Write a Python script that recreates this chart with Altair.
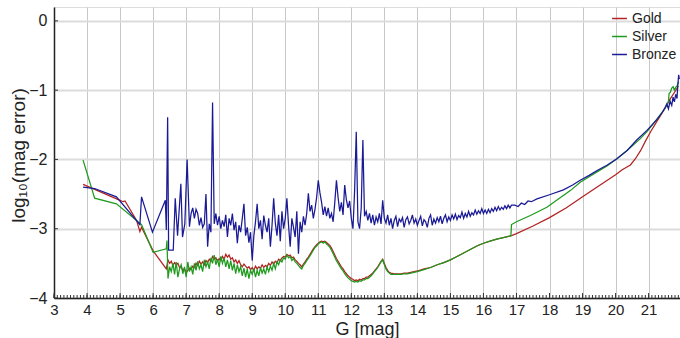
import altair as alt
import pandas as pd

def grid(start, n, step=0.05):
    return [round(start + i * step, 2) for i in range(n)]

# ---------------- Gold ----------------
gold_head_x = [3.88, 5.00, 5.09, 5.15, 5.50, 5.60, 5.65, 6.00]
gold_head_y = [-2.36, -2.59, -2.61, -2.60, -2.88, -3.04, -2.98, -3.32]
gold_noisy_y = [
    -3.58, -3.45, -3.50, -3.47, -3.53, -3.49, -3.52, -3.50, -3.56, -3.55,
    -3.60, -3.58, -3.64, -3.60, -3.57, -3.59, -3.54, -3.56, -3.50, -3.53,
    -3.47, -3.51, -3.48, -3.52, -3.46, -3.49, -3.44, -3.47, -3.40, -3.44,
    -3.42, -3.47, -3.43, -3.46, -3.40, -3.44, -3.37, -3.41, -3.38, -3.44,
    -3.42, -3.48, -3.45, -3.50, -3.46, -3.52, -3.55, -3.51, -3.54, -3.57,
    -3.55, -3.59, -3.56, -3.60, -3.54, -3.58, -3.55, -3.57, -3.52, -3.56,
    -3.53, -3.55, -3.50, -3.53, -3.48, -3.51, -3.47, -3.49, -3.44, -3.46,
    -3.42, -3.40, -3.41, -3.37, -3.39, -3.38, -3.42, -3.41, -3.45, -3.47,
    -3.50, -3.52, -3.55, -3.51, -3.48, -3.44, -3.41, -3.37, -3.33,
]  # 6.40 .. 10.80 step 0.05
gold_bump_y = [
    -3.29, -3.26, -3.23, -3.21, -3.19, -3.18, -3.19, -3.18, -3.20, -3.22,
    -3.24, -3.28, -3.33, -3.38, -3.43, -3.47, -3.51, -3.55, -3.58, -3.62,
    -3.65, -3.68, -3.70, -3.72, -3.73, -3.75, -3.74, -3.75, -3.73, -3.74,
    -3.72, -3.72, -3.70, -3.70, -3.68, -3.66, -3.64, -3.61, -3.58, -3.55,
    -3.51, -3.47, -3.44, -3.50, -3.56, -3.60, -3.63, -3.64,
]  # 10.85 .. 13.20 step 0.05
gold_tail_x = [13.3, 13.4, 13.5, 13.6, 13.7, 13.8, 13.9, 14.0, 14.2, 14.4, 14.6, 14.8,
               15.0, 15.2, 15.4, 15.6, 15.8, 16.0, 16.2, 16.4, 16.6, 16.85, 17.0, 17.5,
               18.0, 18.5, 19.0, 19.5, 20.0, 20.2, 20.45, 20.6, 20.76, 20.9, 21.06,
               21.25, 21.46, 21.65, 21.8, 21.9]
gold_tail_y = [-3.65, -3.65, -3.65, -3.64, -3.64, -3.63, -3.62, -3.61, -3.58, -3.56, -3.52, -3.49,
               -3.45, -3.40, -3.35, -3.30, -3.25, -3.21, -3.18, -3.15, -3.13, -3.10, -3.07, -2.96,
               -2.84, -2.70, -2.54, -2.38, -2.22, -2.15, -2.08, -1.99, -1.87, -1.74, -1.60,
               -1.45, -1.29, -1.13, -1.02, -0.94]

# ---------------- Silver ----------------
silver_head_x = [3.88, 4.23, 4.89, 5.65, 6.00, 6.40, 6.42]
silver_head_y = [-2.01, -2.56, -2.64, -2.94, -3.34, -3.29, -3.17]
silver_noisy_y = [
    -3.72, -3.55, -3.62, -3.50, -3.66, -3.48, -3.70, -3.58, -3.52, -3.65,
    -3.55, -3.70, -3.48, -3.62, -3.55, -3.66, -3.50, -3.60, -3.47, -3.58,
    -3.52, -3.62, -3.45, -3.55, -3.48, -3.58, -3.42, -3.50, -3.38, -3.52,
    -3.44, -3.55, -3.40, -3.50, -3.42, -3.55, -3.45, -3.58, -3.46, -3.60,
    -3.50, -3.65, -3.52, -3.62, -3.55, -3.68, -3.57, -3.70, -3.58, -3.72,
    -3.60, -3.66, -3.58, -3.70, -3.60, -3.68, -3.56, -3.64, -3.58, -3.66,
    -3.55, -3.62, -3.54, -3.60, -3.50, -3.58, -3.48, -3.52, -3.45, -3.48,
    -3.42, -3.44, -3.38, -3.42, -3.40, -3.46, -3.43, -3.48, -3.50, -3.53,
    -3.56, -3.58, -3.53, -3.50, -3.46, -3.43, -3.39, -3.35,
]  # 6.45 .. 10.80 step 0.05
silver_bump_y = [
    -3.31, -3.27, -3.25, -3.22, -3.20, -3.19, -3.21, -3.19, -3.22, -3.24,
    -3.27, -3.31, -3.36, -3.41, -3.46, -3.50, -3.54, -3.58, -3.61, -3.65,
    -3.68, -3.71, -3.73, -3.75, -3.76, -3.77, -3.76, -3.77, -3.75, -3.76,
    -3.74, -3.74, -3.72, -3.72, -3.70, -3.68, -3.65, -3.62, -3.59, -3.56,
    -3.52, -3.48, -3.45, -3.52, -3.58, -3.62, -3.64, -3.66,
]  # 10.85 .. 13.20 step 0.05
silver_tail_x = [13.3, 13.4, 13.5, 13.6, 13.7, 13.8, 13.9, 14.0, 14.2, 14.4, 14.6, 14.8,
                 15.0, 15.2, 15.4, 15.6, 15.8, 16.0, 16.2, 16.4, 16.6, 16.83, 16.85, 17.0,
                 17.42, 17.92, 18.3, 18.63, 18.93, 19.2, 19.44, 19.75, 20.04, 20.45, 20.75,
                 20.95, 21.2, 21.46, 21.55, 21.60, 21.62, 21.66, 21.70, 21.74, 21.78, 21.82,
                 21.86, 21.91]
silver_tail_y = [-3.66, -3.66, -3.66, -3.65, -3.65, -3.64, -3.63, -3.62, -3.59, -3.56, -3.52, -3.49,
                 -3.45, -3.40, -3.35, -3.30, -3.25, -3.21, -3.18, -3.15, -3.13, -3.10, -2.94, -2.90,
                 -2.81, -2.69, -2.56, -2.45, -2.33, -2.25, -2.18, -2.09, -1.99, -1.83, -1.70,
                 -1.60, -1.45, -1.29, -1.22, -1.16, -1.05, -1.03, -0.97, -0.95, -1.00, -0.96,
                 -0.94, -0.88]

# ---------------- Bronze ----------------
bronze_head_x = [3.88, 4.23, 4.89, 5.60, 5.65, 5.98, 6.37, 6.40, 6.44, 6.47, 6.61, 6.67,
                 6.74, 6.84, 6.89, 6.96, 7.03]
bronze_head_y = [-2.40, -2.42, -2.54, -2.94, -2.54, -3.05, -2.59, -3.02, -1.39, -3.31, -3.31, -2.56,
                 -3.10, -2.35, -3.12, -2.93, -2.00]
bronze_noisy_y = [
    -2.97, -2.78, -2.70, -2.85, -2.72, -2.78, -2.95, -2.84, -2.98, -2.93,
    -2.50, -3.26, -2.93, -3.05, -1.18, -2.93, -2.78, -2.95, -2.82, -3.00,
    -2.88, -2.97, -2.80, -3.12, -2.85, -2.95, -2.78, -3.02, -2.90, -3.21,
    -2.95, -3.05, -2.85, -2.64, -3.10, -2.98, -3.20, -3.05, -3.46, -3.10,
    -2.90, -2.64, -3.00, -2.88, -3.15, -2.81, -2.95, -3.05, -2.85, -3.26,
    -2.95, -2.56, -2.92, -3.10, -2.80, -3.18, -2.75, -3.00, -2.85, -2.56,
    -2.95, -3.26, -2.85, -2.98, -3.12, -2.75, -3.36, -2.90, -3.05, -2.82,
    -2.95, -2.78, -2.49, -2.75, -2.66, -2.85, -2.72, -2.55, -2.30, -2.48,
    -2.62, -2.80, -2.68, -2.82, -2.70, -2.85, -2.78, -2.90, -2.62, -2.30,
    -2.55, -2.75, -2.62, -2.80, -2.37, -2.58, -2.70, -2.60, -2.85, -3.00,
    -2.45, -1.60, -2.90, -3.00, -2.70, -1.72, -2.82, -2.75, -2.88, -2.78,
    -2.92, -2.80, -2.95, -2.83, -2.90, -2.78, -2.93, -2.59, -2.85,
]  # 7.10 .. 13.00 step 0.05
bronze_flat_y = [
    -2.92, -2.80, -2.95, -2.85, -3.00, -2.88, -2.82, -2.97, -2.86, -2.90,
    -2.84, -2.98, -2.87, -2.83, -2.93, -2.88, -2.80, -2.92, -2.86, -2.95,
    -2.88, -2.82, -2.96, -2.87, -2.90, -2.98, -2.85, -2.80, -2.95, -2.86,
    -2.92, -2.84, -2.90, -2.82, -2.93, -2.85, -2.80, -2.90, -2.83, -2.88,
    -2.80, -2.86, -2.79, -2.87, -2.81, -2.84, -2.76, -2.85, -2.78, -2.83,
    -2.75, -2.82, -2.77, -2.80, -2.73, -2.79, -2.74, -2.78, -2.71, -2.78,
    -2.73, -2.78, -2.72, -2.77, -2.71, -2.75, -2.69, -2.74, -2.68, -2.73,
    -2.69, -2.72, -2.67, -2.71, -2.66, -2.70, -2.66,
]  # 13.05 .. 16.85 step 0.05
bronze_tail_x = [16.95, 17.05, 17.15, 17.25, 17.35, 17.45, 17.62, 18.0, 18.42, 18.7, 18.93,
                 19.2, 19.44, 19.75, 20.04, 20.35, 20.64, 20.95, 21.24, 21.40, 21.50, 21.55,
                 21.60, 21.65, 21.70, 21.74, 21.78, 21.82, 21.86, 21.88, 21.91, 21.93]
bronze_tail_y = [-2.66, -2.68, -2.63, -2.65, -2.60, -2.61, -2.57, -2.51, -2.44, -2.37, -2.30,
                 -2.23, -2.16, -2.08, -1.99, -1.87, -1.72, -1.58, -1.43, -1.33, -1.25, -1.20,
                 -1.27, -1.16, -1.22, -1.10, -1.17, -1.06, -1.12, -0.95, -0.78, -0.84]

series_names = ["Gold", "Silver", "Bronze"]
series_colors = ["#b22222", "#1e9a1e", "#1a1a96"]

gold_x = gold_head_x + grid(6.40, len(gold_noisy_y)) + grid(10.85, len(gold_bump_y)) + gold_tail_x
gold_y = gold_head_y + gold_noisy_y + gold_bump_y + gold_tail_y
silver_x = silver_head_x + grid(6.45, len(silver_noisy_y)) + grid(10.85, len(silver_bump_y)) + silver_tail_x
silver_y = silver_head_y + silver_noisy_y + silver_bump_y + silver_tail_y
bronze_x = bronze_head_x + grid(7.10, len(bronze_noisy_y)) + grid(13.05, len(bronze_flat_y)) + bronze_tail_x
bronze_y = bronze_head_y + bronze_noisy_y + bronze_flat_y + bronze_tail_y

rows = []
for name, xs, ys in [("Gold", gold_x, gold_y), ("Silver", silver_x, silver_y), ("Bronze", bronze_x, bronze_y)]:
    for i, (a, b) in enumerate(zip(xs, ys)):
        rows.append({"G": a, "err": b, "series": name, "i": i})
df = pd.DataFrame(rows)

x_major = list(range(3, 22))
y_major = [-4, -3, -2, -1, 0]
x_minor = [round(3 + i * 0.1, 1) for i in range(190)]

FONT = "Liberation Sans"
xscale = alt.Scale(domain=[3, 21.95], nice=False, zero=False)
yscale = alt.Scale(domain=[-4, 0.2], nice=False, zero=False)

x_axis = alt.Axis(
    values=x_major, grid=True, gridColor="#c8c8c8", gridWidth=1, ticks=False,
    labelFont=FONT, labelFontSize=15, labelColor="#222", labelPadding=4, labelFlush=False,
    labelOverlap=False, labelBound=False,
    title="G [mag]", titleFont=FONT, titleFontSize=18, titleFontWeight="normal", titleColor="#222",
    titleX=313, titleY=36, titleBaseline="alphabetic",
    domainColor="#222", domainWidth=1.5)
y_axis = alt.Axis(
    values=y_major, grid=True, gridColor="#dcdcdc", gridWidth=2, ticks=False, format="d",
    labelFont=FONT, labelFontSize=16, labelColor="#222", labelPadding=7, labelOverlap=False,
    title="log₁₀(mag error)", titleFont=FONT, titleFontSize=19, titleFontWeight="normal", titleColor="#222",
    titleX=-36, titleY=148, titleBaseline="middle", titleAngle=270,
    domainColor="#222", domainWidth=1.5)

lines = alt.Chart(df).mark_line(strokeWidth=1.25, clip=True).encode(
    x=alt.X("G:Q", scale=xscale, axis=x_axis),
    y=alt.Y("err:Q", scale=yscale, axis=y_axis),
    color=alt.Color("series:N", scale=alt.Scale(domain=series_names, range=series_colors),
                    legend=alt.Legend(title=None, orient="none", legendX=557, legendY=3,
                                      symbolType="stroke", symbolSize=220, symbolStrokeWidth=1.5,
                                      labelFont=FONT, labelFontSize=14, labelColor="#222",
                                      rowPadding=2, padding=0, labelOffset=4)),
    order="i:Q",
)

minor = alt.Chart(pd.DataFrame({"m": x_minor})).mark_rule(color="#333", strokeWidth=1).encode(
    x=alt.X("m:Q", scale=xscale, axis=x_axis), y=alt.value(291), y2=alt.value(288))
major = alt.Chart(pd.DataFrame({"t": x_major})).mark_rule(color="#333", strokeWidth=1).encode(
    x=alt.X("t:Q", scale=xscale, axis=x_axis), y=alt.value(291), y2=alt.value(286))
yt = alt.Chart(pd.DataFrame({"v": y_major})).mark_rule(color="#333", strokeWidth=1).encode(
    y=alt.Y("v:Q", scale=yscale, axis=y_axis), x=alt.value(0), x2=alt.value(4))

chart = alt.layer(lines, minor, major, yt).properties(
    width=626, height=291, autosize="none",
    padding={"left": 54, "top": 7, "right": 0, "bottom": 40},
).configure_view(stroke="#222", strokeWidth=1).configure_axis(labelOverlap=False).configure(background="white")

chart.save("out.html", embed_options={"renderer": "svg", "actions": False})
